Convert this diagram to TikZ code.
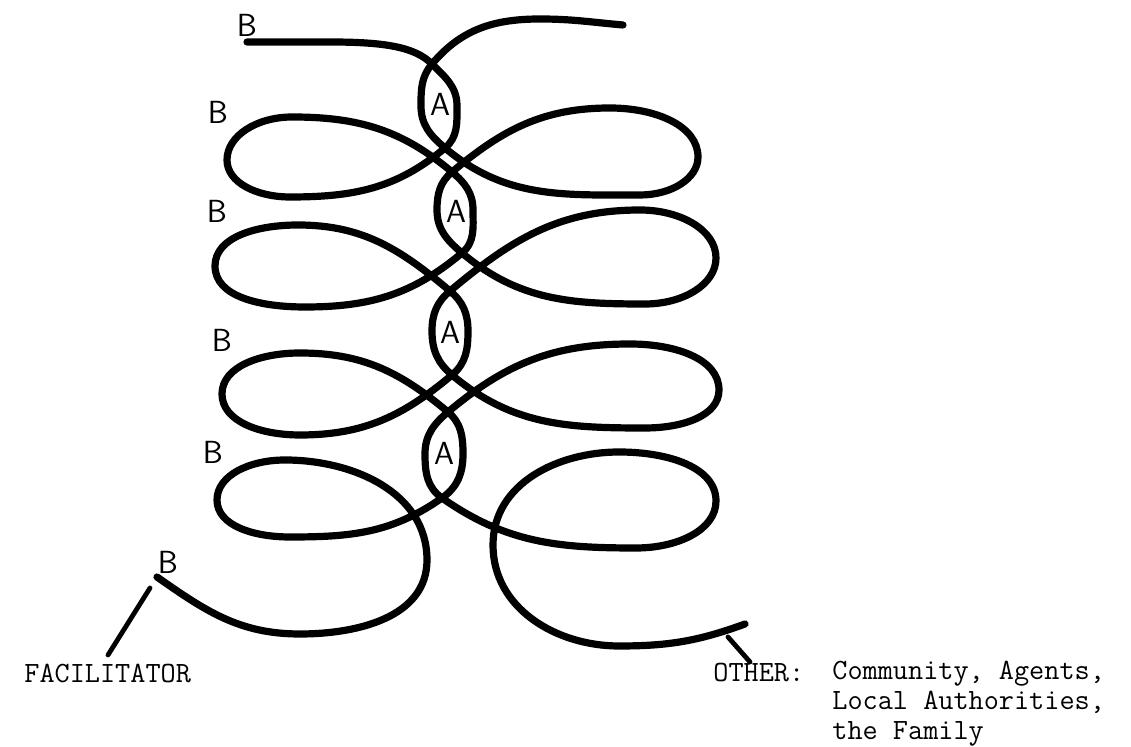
\documentclass[tikz,border=0pt]{standalone}
\usepackage{tikz}

\begin{document}
\begin{tikzpicture}[x=0.5pt,y=-0.5pt,
  strand/.style={line width=3.6pt,line cap=round,line join=round},
  toend/.style={out looseness=1.15,in looseness=0.8},
  fromend/.style={out looseness=0.8,in looseness=1.15},
  pointer/.style={line width=2.4pt,line cap=round},
  hand/.style={font=\fontsize{16}{16}\sffamily,inner sep=0pt},
  typed/.style={font=\fontsize{14.7}{15}\ttfamily,inner sep=0pt,anchor=base west,align=left}]
  \useasboundingbox (0,0) rectangle (1131,747);
  % facilitator strand, loops on the left
  \draw[strand] (247,42) to[out=0,in=180] (330,42) .. controls (385,42) and (415,47) .. (432,64)
    to[out=315,in=90] (457,106) to[out=270,in=40] (445,148)
    to[out=220,in=0] (290,197) to[toend,out=180,in=270] (227,160) to[fromend,out=90,in=180] (292,117) to[out=0,in=140] (452,172)
    to[out=320,in=90] (473,210) to[out=270,in=40] (462,253)
    to[out=220,in=0] (305,307) to[toend,out=180,in=270] (215,266) to[fromend,out=90,in=180] (298,225) to[out=0,in=140] (450,291)
    to[out=320,in=90] (468,331) to[out=270,in=40] (452,375)
    to[out=220,in=0] (300,435) to[toend,out=180,in=270] (222,394) to[fromend,out=90,in=180] (300,353) to[out=0,in=140] (448,412)
    to[out=320,in=90] (463,454) to[out=270,in=35] (442,498)
    to[out=215,in=0] (290,537) to[toend,out=180,in=270] (217,500) to[fromend,out=90,in=180] (285,460) to[out=0,in=90] (427,560)
    to[out=270,in=0] (300,634) to[out=180,in=325] (157,577);
  % other strand, loops on the right
  \draw[strand] (623,25) to[out=175,in=0] (540,19) to[out=180,in=50] (432,64)
    to[out=230,in=90] (421,106) to[out=270,in=140] (445,148)
    to[out=320,in=180] (640,195) to[toend,out=0,in=270] (698,157) to[fromend,out=90,in=0] (610,108) to[out=180,in=40] (452,172)
    to[out=220,in=90] (437,210) to[out=270,in=140] (462,253)
    to[out=320,in=180] (645,304) to[toend,out=0,in=270] (716,258) to[fromend,out=90,in=0] (640,210) to[out=180,in=40] (450,291)
    to[out=220,in=90] (432,331) to[out=270,in=140] (452,375)
    to[out=320,in=180] (645,428) to[toend,out=0,in=270] (719,390) to[fromend,out=90,in=0] (630,344) to[out=180,in=40] (448,412)
    to[out=220,in=90] (425,454) to[out=270,in=145] (442,498)
    to[out=325,in=180] (636,548) to[toend,out=0,in=270] (716,501) to[fromend,out=90,in=0] (619,452) to[out=180,in=90] (493,545)
    to[out=270,in=180] (619,646) to[out=0,in=200] (745,624);
  % labels on the strands
  \foreach \n/\x/\y in {1/440/104, 2/456/211, 3/450/332, 4/444/453}
    \node[hand] (a\n) at (\x,\y) {A};
  \foreach \n/\x/\y in {1/247/25, 2/218/112, 3/217/211, 4/222/340, 5/213/452, 6/168/562}
    \node[hand] (b\n) at (\x,\y) {B};
  % typed captions
  \node[typed] (fac) at (24,683) {FACILITATOR};
  \node[typed] (other) at (713,682) {OTHER:};
  \node[typed] (who) at (832,740) {Community, Agents,\\Local Authorities,\\the Family};
  \coordinate (facTop) at (150,588);
  \coordinate (facEnd) at (108,655);
  \coordinate (otherTop) at (728,637);
  \coordinate (otherEnd) at (750,662);
  \draw[pointer] (facTop) -- (facEnd);
  \draw[pointer] (otherTop) -- (otherEnd);
\end{tikzpicture}
\end{document}
